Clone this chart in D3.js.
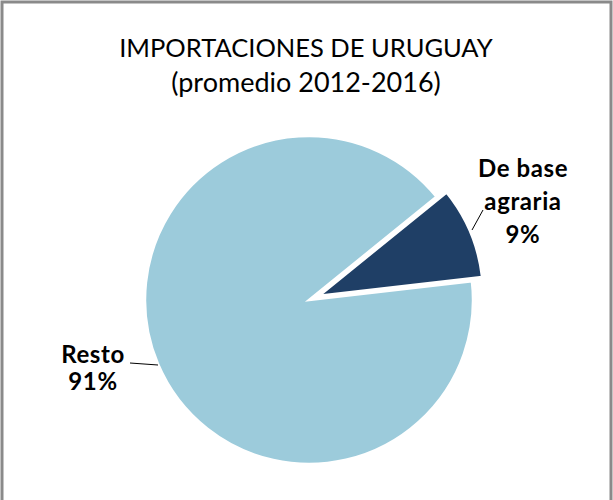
<!DOCTYPE html>
<html>
<head>
<meta charset="utf-8">
<script src="https://cdn.jsdelivr.net/npm/d3@7"></script>
<style>
  html, body { margin: 0; padding: 0; background: #fff; }
  svg { display: block; }
</style>
</head>
<body>
<div id="chart"></div>
<script>
// values
const categories = ['De base agraria', 'Resto'];
const shares = [9, 91];
const labelLines = [['De base', 'agraria', '9%'], ['Resto', '91%']];
const titleLines = ['IMPORTACIONES DE URUGUAY', '(promedio 2012-2016)'];

const d3 = window.d3;
const width = 613, height = 500;
const cx = 309, cy = 300, r = 164;
const colors = ['#1f3f66', '#9ccbdb'];
const startDeg = 51;

const svg = d3.select('#chart').append('svg')
  .attr('width', width).attr('height', height)
  .attr('viewBox', [0, 0, width, height]);

// frame (left, top, right)
svg.append('path')
  .attr('d', `M2,${height} V2 H${width - 2} V${height}`)
  .attr('fill', 'none').attr('stroke', '#8a8a8a').attr('stroke-width', 3);

const title = svg.append('text')
  .attr('x', 306).attr('y', 57)
  .attr('text-anchor', 'middle')
  .attr('font-family', 'Lato, "Open Sans", sans-serif')
  .attr('font-size', 26).attr('fill', '#000');
titleLines.forEach((t, i) => title.append('tspan').attr('x', 306).attr('dy', i ? 35 : 0)
  .attr('font-size', i ? 27 : 25.5).text(t));

const pie = d3.pie().sort(null)
  .startAngle(startDeg * Math.PI / 180)
  .endAngle((startDeg + 360) * Math.PI / 180);
const arcs = pie(shares);
const arc = d3.arc().innerRadius(0).outerRadius(r);
const explode = [11, 0];

const g = svg.append('g').attr('transform', `translate(${cx},${cy})`);
g.selectAll('path').data(arcs).join('path')
  .attr('d', arc)
  .attr('transform', (d, i) => {
    const a = (d.startAngle + d.endAngle) / 2;
    return `translate(${explode[i] * Math.sin(a)},${-explode[i] * Math.cos(a)})`;
  })
  .attr('fill', (d, i) => colors[i])
  .attr('stroke', '#fff').attr('stroke-width', 2.5).attr('stroke-linejoin', 'miter');

// labels and leader lines
const labelPos = [[523, 177], [93, 363]];
const leaders = [[[483, 210], [472, 230]], [[130, 363], [158, 365]]];
labelLines.forEach((lines, i) => {
  const t = svg.append('text')
    .attr('text-anchor', 'middle')
    .attr('font-family', 'Lato, "Open Sans", sans-serif')
    .attr('font-weight', 'bold').attr('font-size', 24).attr('letter-spacing', 0.6)
    .attr('fill', '#000')
    .attr('y', labelPos[i][1]);
  lines.forEach((s, j) => t.append('tspan').attr('x', labelPos[i][0]).attr('dy', j ? (i ? 27 : 33) : 0).text(s));
  svg.append('path')
    .attr('d', d3.line()(leaders[i]))
    .attr('fill', 'none').attr('stroke', '#000').attr('stroke-width', 1);
});
</script>
</body>
</html>
